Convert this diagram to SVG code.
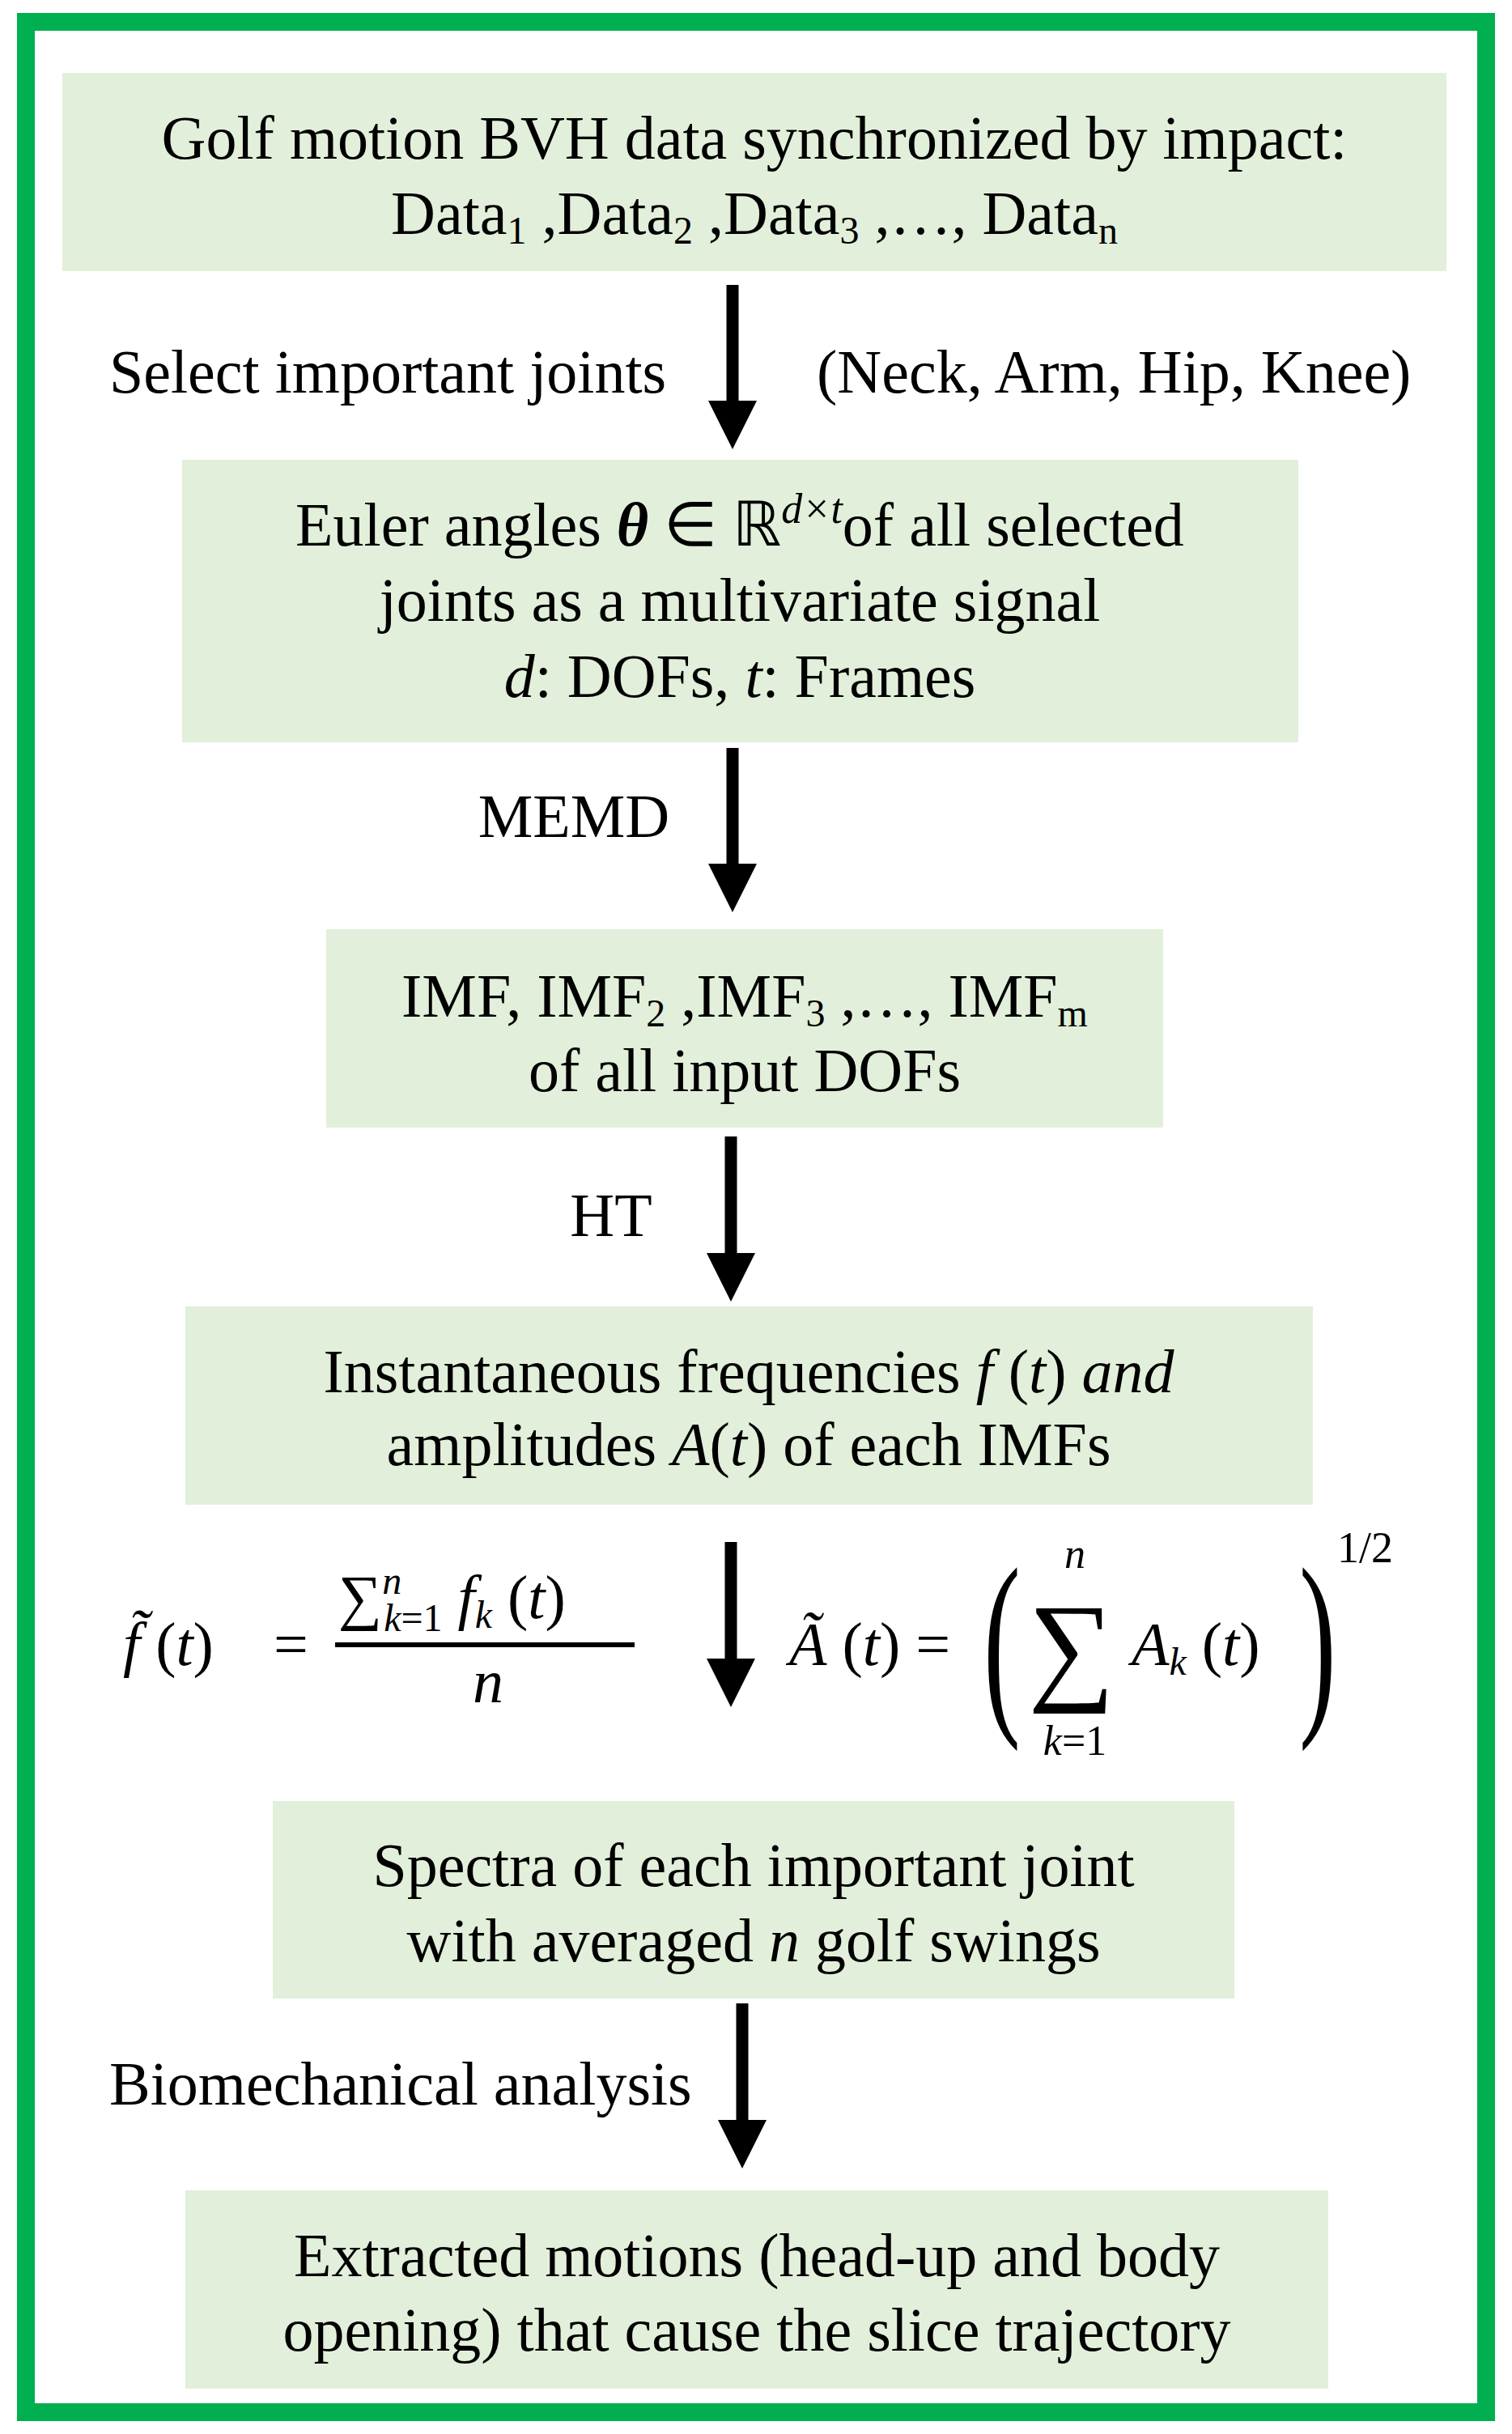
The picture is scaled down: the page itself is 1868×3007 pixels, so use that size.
<svg xmlns="http://www.w3.org/2000/svg" width="1868" height="3007" viewBox="0 0 1868 3007">
<style>
text{font-family:"Liberation Serif","Times New Roman",serif;font-size:76px;fill:#000}
.c{text-anchor:middle}
.i{font-style:italic}
.box{fill:#e2efda}
.ar{stroke:#000;stroke-width:15}
</style>
<defs>
<marker id="ah" markerWidth="4" markerHeight="4" refX="0" refY="2" orient="auto" markerUnits="strokeWidth" viewBox="0 0 4 4"><path d="M0,0 L4,2 L0,4 z" fill="#000"/></marker>
</defs>
<rect width="1868" height="3007" fill="#fff"/>
<rect x="32" y="27" width="1804" height="2953" fill="none" stroke="#00b050" stroke-width="22"/>
<g id="n1"><rect class="box" x="77" y="90" width="1710" height="245"/>
<text class="c" x="932" y="196">Golf motion BVH data synchronized by impact:</text>
<text class="c" x="932" y="289">Data<tspan font-size="48" dy="12">1</tspan><tspan dy="-12"> ,Data</tspan><tspan font-size="48" dy="12">2</tspan><tspan dy="-12"> ,Data</tspan><tspan font-size="48" dy="12">3</tspan><tspan dy="-12"> ,…, Data</tspan><tspan font-size="48" dy="12">n</tspan></text></g>
<g id="n2"><rect class="box" x="225" y="568" width="1379" height="349"/>
<text class="c" x="914" y="674">Euler angles <tspan font-weight="bold" font-style="italic">θ</tspan> ∈  ℝ<tspan class="i" font-size="52" dy="-28">d×t</tspan><tspan dy="28">of all selected</tspan></text>
<text class="c" x="914" y="767">joints as a multivariate signal</text>
<text class="c" x="914" y="861"><tspan class="i">d</tspan>: DOFs, <tspan class="i">t</tspan>: Frames</text></g>
<g id="n3"><rect class="box" x="403" y="1148" width="1034" height="245"/>
<text class="c" x="920" y="1256">IMF, IMF<tspan font-size="48" dy="12">2</tspan><tspan dy="-12"> ,IMF</tspan><tspan font-size="48" dy="12">3</tspan><tspan dy="-12"> ,…, IMF</tspan><tspan font-size="48" dy="12">m</tspan></text>
<text class="c" x="920" y="1348">of all input DOFs</text></g>
<g id="n4"><rect class="box" x="229" y="1614" width="1393" height="245"/>
<text class="c" x="925" y="1720">Instantaneous frequencies <tspan class="i">f</tspan> (<tspan class="i">t</tspan>) <tspan class="i">and</tspan></text>
<text class="c" x="925" y="1810">amplitudes <tspan class="i">A</tspan>(<tspan class="i">t</tspan>) of each IMFs</text></g>
<g id="n5"><rect class="box" x="337" y="2225" width="1188" height="244"/>
<text class="c" x="931" y="2330">Spectra of each important joint</text>
<text class="c" x="931" y="2423">with averaged <tspan class="i">n</tspan> golf swings</text></g>
<g id="n6"><rect class="box" x="229" y="2706" width="1412" height="245"/>
<text class="c" x="935" y="2812">Extracted motions (head-up and body</text>
<text class="c" x="935" y="2904">opening) that cause the slice trajectory</text></g>
<g id="formulas">
<text x="152" y="2057"><tspan class="i">f̃</tspan> (<tspan class="i">t</tspan>)</text>
<text x="338" y="2057">=</text>
<text x="418" y="1999">∑<tspan class="i" font-size="48" dy="-30">n</tspan><tspan font-size="48" dx="-22" dy="46"><tspan class="i">k</tspan>=1</tspan><tspan dy="-16" class="i"> f</tspan><tspan class="i" font-size="48" dy="12">k</tspan><tspan dy="-12"> (</tspan><tspan class="i">t</tspan>)</text>
<line x1="414" y1="2032" x2="784" y2="2032" stroke="#000" stroke-width="6"/>
<text class="c i" x="603" y="2103">n</text>
<text x="975" y="2057"><tspan class="i">Ã</tspan> (<tspan class="i">t</tspan>) =</text>
<text x="1215" y="2110" style="font-size:250px" transform="translate(1215 2110) scale(0.55 1) translate(-1215 -2110)">(</text>
<text x="1270" y="2085" style="font-size:150px">∑</text>
<text class="c i" x="1328" y="1937" style="font-size:52px">n</text>
<text class="c" x="1328" y="2168" style="font-size:52px"><tspan class="i">k</tspan>=1</text>
<text x="1398" y="2057"><tspan class="i">A</tspan><tspan class="i" font-size="48" dy="12">k</tspan><tspan dy="-12"> (</tspan><tspan class="i">t</tspan>)</text>
<text x="1605" y="2110" style="font-size:250px" transform="translate(1605 2110) scale(0.55 1) translate(-1605 -2110)">)</text>
<text x="1652" y="1930" style="font-size:54px">1/2</text>
</g>
<g id="connectors">
<line class="ar" x1="905" y1="352" x2="905" y2="495" marker-end="url(#ah)"/>
<line class="ar" x1="905" y1="924" x2="905" y2="1067" marker-end="url(#ah)"/>
<line class="ar" x1="903" y1="1404" x2="903" y2="1548" marker-end="url(#ah)"/>
<line class="ar" x1="903" y1="1905" x2="903" y2="2049" marker-end="url(#ah)"/>
<line class="ar" x1="917" y1="2475" x2="917" y2="2619" marker-end="url(#ah)"/>
<text x="135" y="485">Select important joints</text>
<text x="1009" y="485">(Neck, Arm, Hip, Knee)</text>
<text class="c" x="709" y="1034">MEMD</text>
<text class="c" x="755" y="1527">HT</text>
<text x="135" y="2600">Biomechanical analysis</text>
</g>
</svg>
